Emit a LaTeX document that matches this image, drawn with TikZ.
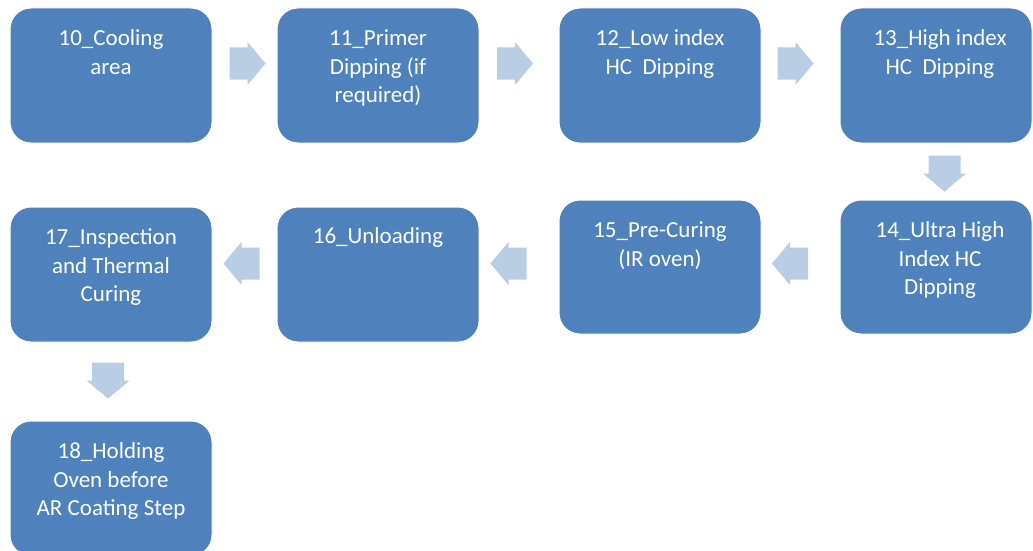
\documentclass[tikz,border=0pt]{standalone}
\usepackage{fontspec}
\setmainfont{Carlito}
\definecolor{boxblue}{HTML}{4F81BD}
\definecolor{arrowblue}{HTML}{B9CDE5}
\begin{document}
\begin{tikzpicture}[x=1pt,y=-1pt,
  stepbox/.style={draw=white,line width=1pt,fill=boxblue,rounded corners=21pt,
    minimum width=202pt,minimum height=135pt,inner sep=0pt},
  steplabel/.style={text=white,anchor=base,text width=200pt,align=flush center,inner sep=0pt,
    font=\fontsize{23}{28.5}\selectfont},
  blockarrow/.pic={\fill[arrowblue] (-18,-16) -- (0,-16) -- (0,-21.5) -- (18,0)
    -- (0,21.5) -- (0,16) -- (-18,16) -- cycle;}
]
\useasboundingbox[clip] (0,0) rectangle (1033,551);
\fill[white] (0,0) rectangle (1033,551);
% boxes
\node[stepbox] (b10) at (111,75.5) {};
\node[stepbox] (b11) at (378,75.5) {};
\node[stepbox] (b12) at (660,75.5) {};
\node[stepbox,minimum width=192pt] (b13) at (936,75.5) {};
\node[stepbox,minimum width=192pt,minimum height=134pt] (b14) at (936,267) {};
\node[stepbox,minimum height=134pt] (b15) at (660,267) {};
\node[stepbox] (b16) at (378,274.5) {};
\node[stepbox] (b17) at (111,274.5) {};
\node[stepbox] (b18) at (111,488.5) {};
% labels
\node[steplabel] (t10) at ([yshift=-38.5pt]b10.north) {10\_Cooling\\area};
\node[steplabel] (t11) at ([yshift=-38.5pt]b11.north) {11\_Primer\\Dipping (if\\required)};
\node[steplabel] (t12) at ([yshift=-38.5pt]b12.north) {12\_Low index\\HC\hspace{0.45em}Dipping};
\node[steplabel] (t13) at ([xshift=4pt,yshift=-38.5pt]b13.north) {13\_High index\\HC\hspace{0.45em}Dipping};
\node[steplabel] (t14) at ([xshift=4pt,yshift=-38pt]b14.north) {14\_Ultra High\\Index HC\\Dipping};
\node[steplabel] (t15) at ([yshift=-38pt]b15.north) {15\_Pre-Curing\\(IR oven)};
\node[steplabel] (t16) at ([yshift=-37pt]b16.north) {16\_Unloading};
\node[steplabel] (t17) at ([yshift=-38pt]b17.north) {17\_Inspection\\and Thermal\\Curing};
\node[steplabel] (t18) at ([yshift=-38pt]b18.north) {18\_Holding\\Oven before\\AR Coating Step};
% arrow positions
\coordinate (a1) at (247.5,63.5);
\coordinate (a2) at (515,63.5);
\coordinate (a3) at (795.5,63.5);
\coordinate (a4) at (944.5,173.5);
\coordinate (a5) at (790,263.5);
\coordinate (a6) at (508.5,263.5);
\coordinate (a7) at (241.5,263.5);
\coordinate (a8) at (108,380.5);
% arrows
\pic at (a1) {blockarrow};
\pic at (a2) {blockarrow};
\pic at (a3) {blockarrow};
\pic[rotate=-90] at (a4) {blockarrow};
\pic[rotate=180] at (a5) {blockarrow};
\pic[rotate=180] at (a6) {blockarrow};
\pic[rotate=180] at (a7) {blockarrow};
\pic[rotate=-90] at (a8) {blockarrow};
\end{tikzpicture}
\end{document}
